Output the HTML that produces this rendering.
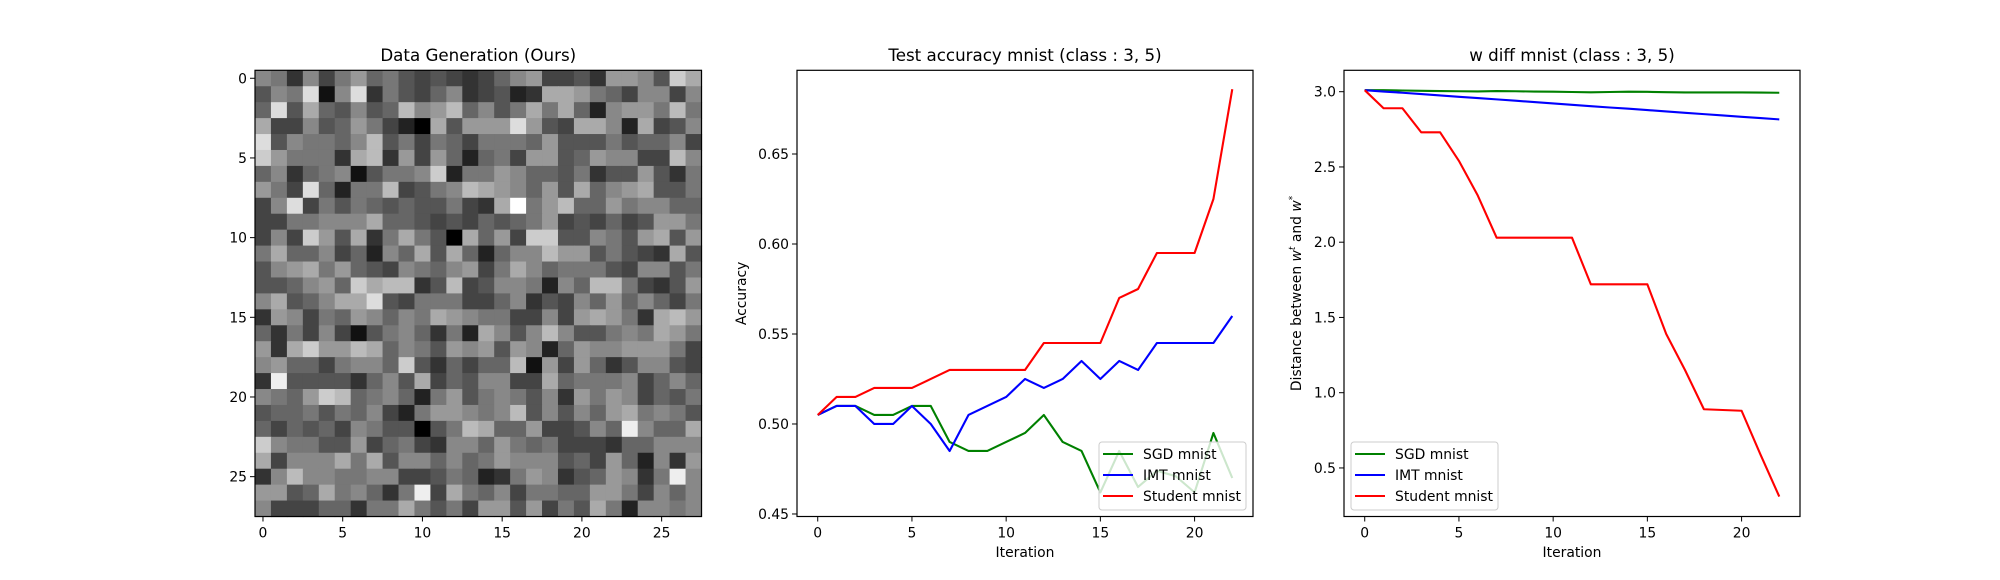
<!DOCTYPE html>
<html><head><meta charset="utf-8"><style>
body{margin:0;background:#fff;}
svg{display:block;font-family:"DejaVu Sans","Liberation Sans",sans-serif;}
</style></head><body>
<svg id="fig" width="2000" height="580" viewBox="0 0 2000 580" xmlns="http://www.w3.org/2000/svg">
<rect width="2000" height="580" fill="#fff"/>
<g id="heat"></g>
<g id="acc"></g>
<g id="wd"></g>
</svg>
<script>
const NS="http://www.w3.org/2000/svg";
const gridRows = [
"87384796754543468944539985ca",
"587d18d37546834523aa97648848",
"6d5a65856b89b6857a7a628997b7",
"a4485697420a5999d954aa82a4585",
"d587768b5747647776955575668 4",
"c97773ab394962674 99569884 4b8",
"68367815778c277986657355953 7",
"974d6277b4578ba98695a689a557",
"48d47576565574 3af79b66978866",
"4477888a66545465679454645997",
"484c95a37a750a694cc558759a59",
"7a66846286a5a62688b9957543a5",
"589a7965487689 47a86777548857",
"55689 6cabb35b458872 86bb74359",
"8a568aad5477744683548696864 7",
"398476986 87a98774484 9a973ab9",
"63748415786372a858b855787a97",
"93ac99ba68759895982698899974",
"89 66478 86c53646 6b19496358854",
"3e5555368 5a4658844a67778468 6",
"8769cb67862795787583979846 57",
"566757684279987 8b58586 9a7875",
"6465648755057ba66944586e866a",
"c877559467438869767444366888",
"a48 88a7a58868679888564962839",
"38b887788445762379835698 37e8",
"9956a78637e4a76847766997486 8",
"84446637 7a757499594 75a72887 8"
].map(s=>s.replace(/\s/g,''));
const heatValues = gridRows.map(r=>r.slice(0,28).split('').map(c=>parseInt(c,16)));

// accuracy chart data
const iters = Array.from({length:23},(_,i)=>i);
const accSGD = [.505,.51,.51,.505,.505,.51,.51,.49,.485,.485,.49,.495,.505,.49,.485,.462,.485,.465,.474,.471,.462,.495,.47];
const accIMT = [.505,.51,.51,.50,.50,.51,.50,.485,.505,.51,.515,.525,.52,.525,.535,.525,.535,.53,.545,.545,.545,.545,.56];
const accStudent = [.505,.515,.515,.52,.52,.52,.525,.53,.53,.53,.53,.53,.545,.545,.545,.545,.57,.575,.595,.595,.595,.625,.686];
const accYTicks = [0.45,0.50,0.55,0.60,0.65];
const xTicks = [0,5,10,15,20];
// w diff data
const wdSGD = [3.01,3.01,3.008,3.006,3.004,3.003,3.002,3.004,3.003,3.001,3.0,2.998,2.996,2.998,3.0,2.999,2.997,2.995,2.995,2.995,2.995,2.994,2.993];
const wdIMT = [3.01,3.001,2.993,2.984,2.975,2.966,2.958,2.949,2.940,2.931,2.922,2.913,2.904,2.895,2.887,2.878,2.869,2.860,2.851,2.842,2.833,2.825,2.816];
const wdStudent = [3.01,2.89,2.89,2.73,2.73,2.54,2.31,2.03,2.03,2.03,2.03,2.03,1.72,1.72,1.72,1.72,1.39,1.15,0.89,0.885,0.88,0.59,0.31];
const wdYTicks = [0.5,1.0,1.5,2.0,2.5,3.0];

function el(tag,attrs,parent,text){const e=document.createElementNS(NS,tag);for(const k in attrs)e.setAttribute(k,attrs[k]);if(text!==undefined)e.textContent=text;parent.appendChild(e);return e;}

const TOP=70.3,BOT=516.5;
// ---- heatmap
(function(){
  const g=document.getElementById('heat');
  const L=255,R=701.5;
  const sx=v=>L+(v+0.5)*(R-L)/28, sy=v=>TOP+(v+0.5)*(BOT-TOP)/28;
  heatValues.forEach((row,r)=>row.forEach((v,c)=>{
    const c8=Math.round(v*17);
    const rc=el('rect',{x:sx(c-0.5),y:sy(r-0.5),width:(R-L)/28+0.6,height:(BOT-TOP)/28+0.6,fill:`rgb(${c8},${c8},${c8})`},g);
    
    
  }));
  el('rect',{x:L,y:TOP,width:R-L,height:BOT-TOP,fill:'none',stroke:'#000','stroke-width':1.2},g);
  [0,5,10,15,20,25].forEach(t=>{
    el('line',{x1:sx(t),x2:sx(t),y1:BOT,y2:BOT+5,stroke:'#000'},g);
    const tx=el('text',{x:sx(t),y:BOT+21,'font-size':13.9,'text-anchor':'middle'},g,t);
    
    
    el('line',{x1:L-5,x2:L,y1:sy(t),y2:sy(t),stroke:'#000'},g);
    const ty=el('text',{x:L-8,y:sy(t)+5,'font-size':13.9,'text-anchor':'end'},g,t);
    
    
  });
  const tt=el('text',{x:(L+R)/2,y:61,'font-size':16.7,'text-anchor':'middle'},g,'Data Generation (Ours)');
  
  
})();

function lineChart(gid,L,R,xmin,xmax,ymin,ymax,yTicks,fmt,series,title,ylabelHTML,ylx,legendX){
  const g=document.getElementById(gid);
  const sx=v=>L+(v-xmin)/(xmax-xmin)*(R-L), sy=v=>BOT-(v-ymin)/(ymax-ymin)*(BOT-TOP);
  series.forEach(s=>{
    const p=el('polyline',{points:iters.map((x,i)=>sx(x)+','+sy(s.data[i])).join(' '),fill:'none',stroke:s.color,'stroke-width':2.1,'stroke-linejoin':'round'},g);
    
    
  });
  el('rect',{x:L,y:TOP,width:R-L,height:BOT-TOP,fill:'none',stroke:'#000','stroke-width':1.2},g);
  xTicks.forEach(t=>{
    el('line',{x1:sx(t),x2:sx(t),y1:BOT,y2:BOT+5,stroke:'#000'},g);
    const tx=el('text',{x:sx(t),y:BOT+21,'font-size':13.9,'text-anchor':'middle'},g,t);
    
    
  });
  yTicks.forEach(t=>{
    el('line',{x1:L-5,x2:L,y1:sy(t),y2:sy(t),stroke:'#000'},g);
    const ty=el('text',{x:L-8,y:sy(t)+5,'font-size':13.9,'text-anchor':'end'},g,t.toFixed(fmt));
    
    
  });
  const xl=el('text',{x:(L+R)/2,y:557,'font-size':13.9,'text-anchor':'middle'},g,'Iteration');
  
  
  const tt=el('text',{x:(L+R)/2,y:61,'font-size':16.7,'text-anchor':'middle'},g,title);
  
  
  const yl=el('text',{x:0,y:0,'font-size':13.9,'text-anchor':'middle',transform:`translate(${ylx},${(TOP+BOT)/2}) rotate(-90)`},g);
  yl.innerHTML=ylabelHTML;
  
  
  const lg=el('g',{},g);
  
  
  el('rect',{x:legendX,y:442,width:147,height:68,rx:3,fill:'rgba(255,255,255,0.8)',stroke:'#ccc'},lg);
  series.forEach((s,i)=>{
    const y=454+i*21;
    el('line',{x1:legendX+4,x2:legendX+34,y1:y,y2:y,stroke:s.color,'stroke-width':2.1},lg);
    const t=el('text',{x:legendX+44,y:y+5,'font-size':13.9},lg,s.label);
    
    
  });
}
lineChart('acc',797,1253,-1.1,23.1,0.4486,0.6965,accYTicks,2,
 [{data:accSGD,color:'#008000',label:'SGD mnist',name:'sgd-line'},{data:accIMT,color:'#0000ff',label:'IMT mnist',name:'imt-line'},{data:accStudent,color:'#ff0000',label:'Student mnist',name:'student-line'}],
 'Test accuracy mnist (class : 3, 5)','Accuracy',746,1099);
const wdTop=3.0+(91.7-TOP)/150.5, wdBot=3.0-(BOT-91.7)/150.5;
lineChart('wd',1344,1800,-1.1,23.1,wdBot,wdTop,wdYTicks,1,
 [{data:wdSGD,color:'#008000',label:'SGD mnist',name:'sgd-line'},{data:wdIMT,color:'#0000ff',label:'IMT mnist',name:'imt-line'},{data:wdStudent,color:'#ff0000',label:'Student mnist',name:'student-line'}],
 'w diff mnist (class : 3, 5)','Distance between <tspan font-style="italic">w</tspan><tspan font-size="9" dy="-6" font-style="italic">t</tspan><tspan dy="6"> and </tspan><tspan font-style="italic">w</tspan><tspan font-size="9" dy="-6">*</tspan>',1301,1351);
</script>
</body></html>
